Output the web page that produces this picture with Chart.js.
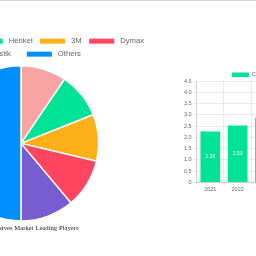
<!DOCTYPE html>
<html>
<head>
<meta charset="utf-8">
<script src="https://cdn.jsdelivr.net/npm/chart.js@4.4.1/dist/chart.umd.min.js"></script>
<style>
  html, body { margin: 0; padding: 0; width: 256px; height: 256px; overflow: hidden; background: #fff; }
  #topline { position: absolute; left: 0; top: 0; width: 256px; height: 1px; background: #d6d6d6; }
  #pieCanvas { position: absolute; left: -124px; top: 32px; }
  #barCanvas { position: absolute; left: 181.5px; top: 67px; }
</style>
</head>
<body>
<div id="topline"></div>
<canvas id="pieCanvas" width="290" height="202"></canvas>
<canvas id="barCanvas" width="206" height="128"></canvas>
<script>
// ---- Data ----
const playerNames = ['Master Bond', 'Henkel', '3M', 'Dymax', 'Bostik    ', 'Others'];
const playerShares = [9.5, 9.5, 9.7, 10.2, 11.1, 50.0];
const playerColors = ['#F9A3A4', '#00E396', '#FEB019', '#FF4560', '#775DD0', '#008FFB'];
const pieTitle = 'Optical Adhesives Market Leading Players';

const years = ['2021', '2022', '2023', '2024', '2025', '2026', '2027'];
const marketValues = [2.26, 2.53, 2.86];
const seriesName = 'Consumption Value (in Billion USD)';
const yMin = 0, yMax = 4.5, yStep = 0.5;

const SANS = "'Liberation Sans', Arial, sans-serif";
const SERIF = "'Liberation Serif', 'Times New Roman', serif";

// shrink legend box height (layout only)
const legendShrink = {
  id: 'legendShrink',
  afterInit(chart, args, opts) {
    const lg = chart.legend;
    if (!lg) return;
    const orig = lg.fit.bind(lg);
    lg.fit = function () { orig(); this.height = Math.max(0, this.height - (opts.by || 0)); };
  }
};

// value labels inside bars, placed from the bar elements
const barValueLabels = {
  id: 'barValueLabels',
  afterDatasetsDraw(chart) {
    const ctx = chart.ctx;
    chart.data.datasets.forEach((ds, di) => {
      const meta = chart.getDatasetMeta(di);
      meta.data.forEach((bar, i) => {
        const v = ds.data[i];
        if (v == null) return;
        const p = bar.getProps(['x', 'y', 'base'], true);
        ctx.save();
        ctx.fillStyle = '#ffffff';
        ctx.font = '5px ' + SANS;
        ctx.textAlign = 'center';
        ctx.textBaseline = 'middle';
        ctx.fillText(v.toFixed(2), p.x, (p.y + p.base) / 2);
        ctx.restore();
      });
    });
  }
};

new Chart(document.getElementById('pieCanvas'), {
  type: 'pie',
  data: {
    labels: playerNames,
    datasets: [{ data: playerShares, backgroundColor: playerColors, borderColor: '#ffffff', borderWidth: 1.5 }]
  },
  plugins: [legendShrink],
  options: {
    responsive: false,
    animation: false,
    layout: { padding: 0 },
    plugins: {
      legendShrink: { by: 3 },
      tooltip: { enabled: false },
      legend: {
        position: 'top',
        labels: {
          boxWidth: 25,
          boxHeight: 5,
          padding: 5.3,
          color: '#666666',
          font: { family: SANS, size: 7.7 },
          generateLabels(chart) {
            const items = Chart.overrides.doughnut.plugins.legend.labels.generateLabels(chart);
            items.forEach(it => { it.text = ' ' + it.text + ' '; it.lineWidth = 0; });
            return items;
          }
        }
      },
      title: {
        display: true,
        position: 'bottom',
        text: pieTitle,
        color: '#222222',
        font: { family: SERIF, size: 6.7, weight: 'normal' },
        padding: { top: 2.2, bottom: 2 }
      }
    }
  }
});

new Chart(document.getElementById('barCanvas'), {
  type: 'bar',
  data: {
    labels: years,
    datasets: [{ label: seriesName, data: marketValues, backgroundColor: '#00E396', borderWidth: 0 }]
  },
  plugins: [legendShrink, barValueLabels],
  options: {
    responsive: false,
    animation: false,
    layout: { padding: 0 },
    plugins: {
      legendShrink: { by: 6.5 },
      tooltip: { enabled: false },
      legend: {
        position: 'top',
        labels: {
          boxWidth: 17,
          boxHeight: 4.5,
          padding: 5,
          color: '#666666',
          font: { family: SANS, size: 5.5 }
        }
      }
    },
    scales: {
      x: {
        grid: { color: 'rgba(0,0,0,0.08)', tickLength: 2, offset: true },
        border: { color: 'rgba(0,0,0,0.12)' },
        ticks: { color: '#666666', font: { family: SANS, size: 5.5 }, padding: 2 }
      },
      y: {
        min: yMin,
        max: yMax,
        grid: { color: 'rgba(0,0,0,0.08)', tickLength: 3 },
        border: { color: 'rgba(0,0,0,0.12)' },
        ticks: { stepSize: yStep, color: '#666666', font: { family: SANS, size: 5.5 }, padding: 2 }
      }
    }
  }
});
</script>
</body>
</html>
